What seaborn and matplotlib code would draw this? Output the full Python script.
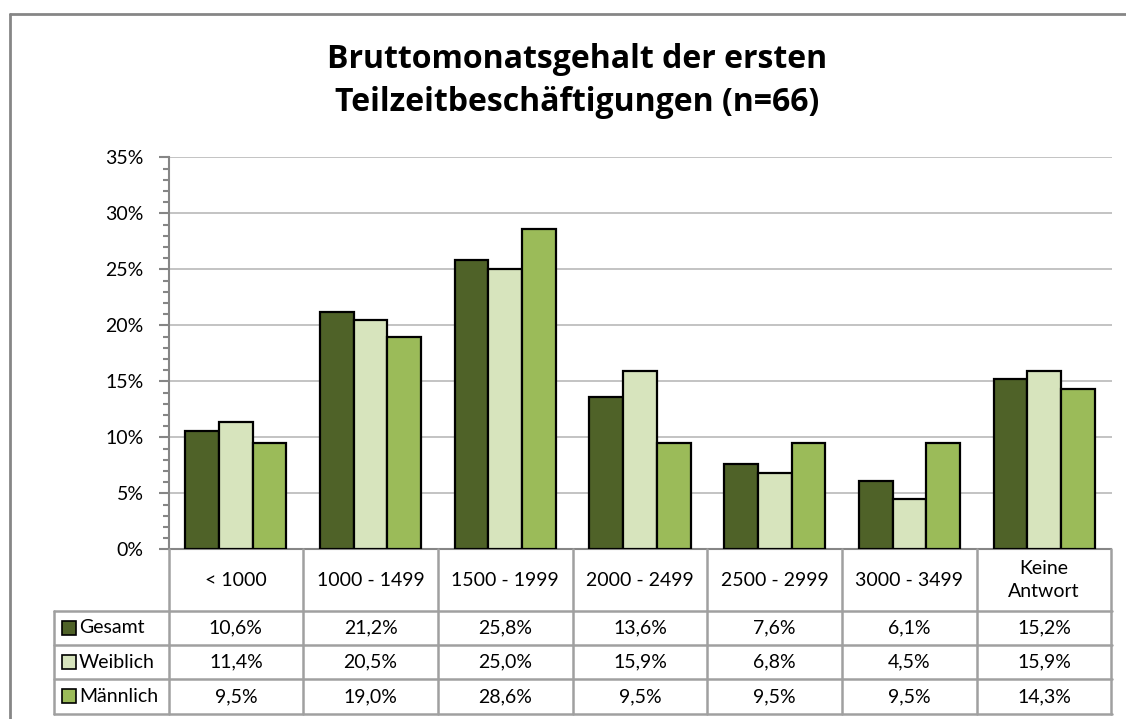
"""
Bruttomonatsgehalt der ersten Teilzeitbeschaeftigungen (n=66)
Grouped bar chart with an Excel-style data table underneath.
"""

import pandas as pd
import matplotlib.pyplot as plt
import matplotlib.transforms as mtransforms
from matplotlib.patches import Rectangle
from matplotlib.lines import Line2D
from matplotlib.ticker import MultipleLocator, FuncFormatter
import seaborn as sns

# --- data -------------------------------------------------------------
categories = ["< 1000", "1000 - 1499", "1500 - 1999", "2000 - 2499",
              "2500 - 2999", "3000 - 3499", "Keine Antwort"]
header_labels = ["< 1000", "1000 - 1499", "1500 - 1999", "2000 - 2499",
                 "2500 - 2999", "3000 - 3499", "Keine\nAntwort"]
series_names = ["Gesamt", "Weiblich", "Männlich"]
gesamt = [10.6, 21.2, 25.8, 13.6, 7.6, 6.1, 15.2]
weiblich = [11.4, 20.5, 25.0, 15.9, 6.8, 4.5, 15.9]
maennlich = [9.5, 19.0, 28.6, 9.5, 9.5, 9.5, 14.3]
colors = ["#4F6228", "#D7E4BD", "#9BBB59"]
title = "Bruttomonatsgehalt der ersten\nTeilzeitbeschäftigungen (n=66)"

series_values = [gesamt, weiblich, maennlich]
df = pd.DataFrame({
    "Kategorie": categories * 3,
    "Gruppe": [s for s in series_names for _ in categories],
    "Anteil": gesamt + weiblich + maennlich,
})

# --- figure -------------------------------------------------------------
sns.set_theme(style="white")
plt.rcParams["font.family"] = ["Lato", "DejaVu Sans"]
plt.rcParams["text.color"] = "black"

W, H = 1126, 719
fig = plt.figure(figsize=(W / 100, H / 100), dpi=100)


def fy(y_px):
    """figure fraction from a pixel row measured from the top"""
    return 1 - y_px / H


ax_left, ax_right, ax_top, ax_bottom = 168.5, 1111.5, 157.3, 549.3
ax = fig.add_axes([ax_left / W, fy(ax_bottom),
                   (ax_right - ax_left) / W, (ax_bottom - ax_top) / H])

sns.barplot(data=df, x="Kategorie", y="Anteil", hue="Gruppe",
            order=categories, hue_order=series_names, palette=colors,
            saturation=1, width=0.75, edgecolor="black", linewidth=1.6,
            errorbar=None, legend=False, ax=ax, zorder=3)

ax.set_xlim(-0.5, len(categories) - 0.5)
ax.set_ylim(0, 35)
ax.yaxis.set_major_locator(MultipleLocator(5))
ax.yaxis.set_minor_locator(MultipleLocator(1))
ax.yaxis.set_major_formatter(FuncFormatter(lambda v, _: f"{v:.0f}%"))
ax.yaxis.grid(True, which="major", color="#BEBEBE", linewidth=1.3, zorder=0)
ax.set_axisbelow(True)
ax.set_xticks([])
ax.set_xlabel("")
ax.set_ylabel("")
for side in ("top", "right"):
    ax.spines[side].set_visible(False)
for side in ("left", "bottom"):
    ax.spines[side].set_color("#868686")
    ax.spines[side].set_linewidth(1.5)
ax.tick_params(axis="y", which="major", left=True, length=7, width=1.5,
               color="#868686", labelsize=14, labelcolor="black", pad=11)
ax.tick_params(axis="y", which="minor", left=True, length=4, width=1.5,
               color="#868686")

# --- data table ---------------------------------------------------------
line_kw = dict(color="#A0A0A0", linewidth=1.8)
trans = mtransforms.blended_transform_factory(ax.transData, fig.transFigure)

row_edges = [549.3, 610.7, 645.0, 679.3, 713.6]
table_left = 54

for i in range(len(categories) + 1):
    fig.add_artist(Line2D([i - 0.5, i - 0.5], [fy(row_edges[0]), fy(row_edges[-1])],
                          transform=trans, **line_kw))
for y in row_edges[1:]:
    fig.add_artist(Line2D([table_left / W, ax_right / W], [fy(y), fy(y)], **line_kw))
fig.add_artist(Line2D([table_left / W, table_left / W],
                      [fy(row_edges[1]), fy(row_edges[-1])], **line_kw))

header_y = (row_edges[0] + row_edges[1]) / 2
for i, lab in enumerate(header_labels):
    fig.text(i, fy(header_y), lab, transform=trans, ha="center", va="center",
             fontsize=14, linespacing=1.4)

for r, (name, vals, col) in enumerate(zip(series_names, series_values, colors)):
    yc = (row_edges[r + 1] + row_edges[r + 2]) / 2
    for i, v in enumerate(vals):
        fig.text(i, fy(yc), f"{v:.1f}%".replace(".", ","), transform=trans,
                 ha="center", va="center", fontsize=14)
    fig.add_artist(Rectangle((62 / W, fy(yc + 7)), 14 / W, 14 / H,
                             facecolor=col, edgecolor="black", linewidth=1.2))
    fig.text(79 / W, fy(yc), name, ha="left", va="center", fontsize=14)

# --- title and outer frame ---------------------------------------------
fig.text(577 / W, fy(81), title, ha="center", va="center", fontsize=23,
         fontweight="bold", family=["Open Sans", "DejaVu Sans"], linespacing=1.38)

frame_kw = dict(color="#868686", linewidth=2)
fig.add_artist(Line2D([10 / W, 1.0], [fy(14), fy(14)], **frame_kw))
fig.add_artist(Line2D([10 / W, 10 / W], [fy(14), 0.0], **frame_kw))

fig.savefig("out.png", dpi=100, facecolor="white")
